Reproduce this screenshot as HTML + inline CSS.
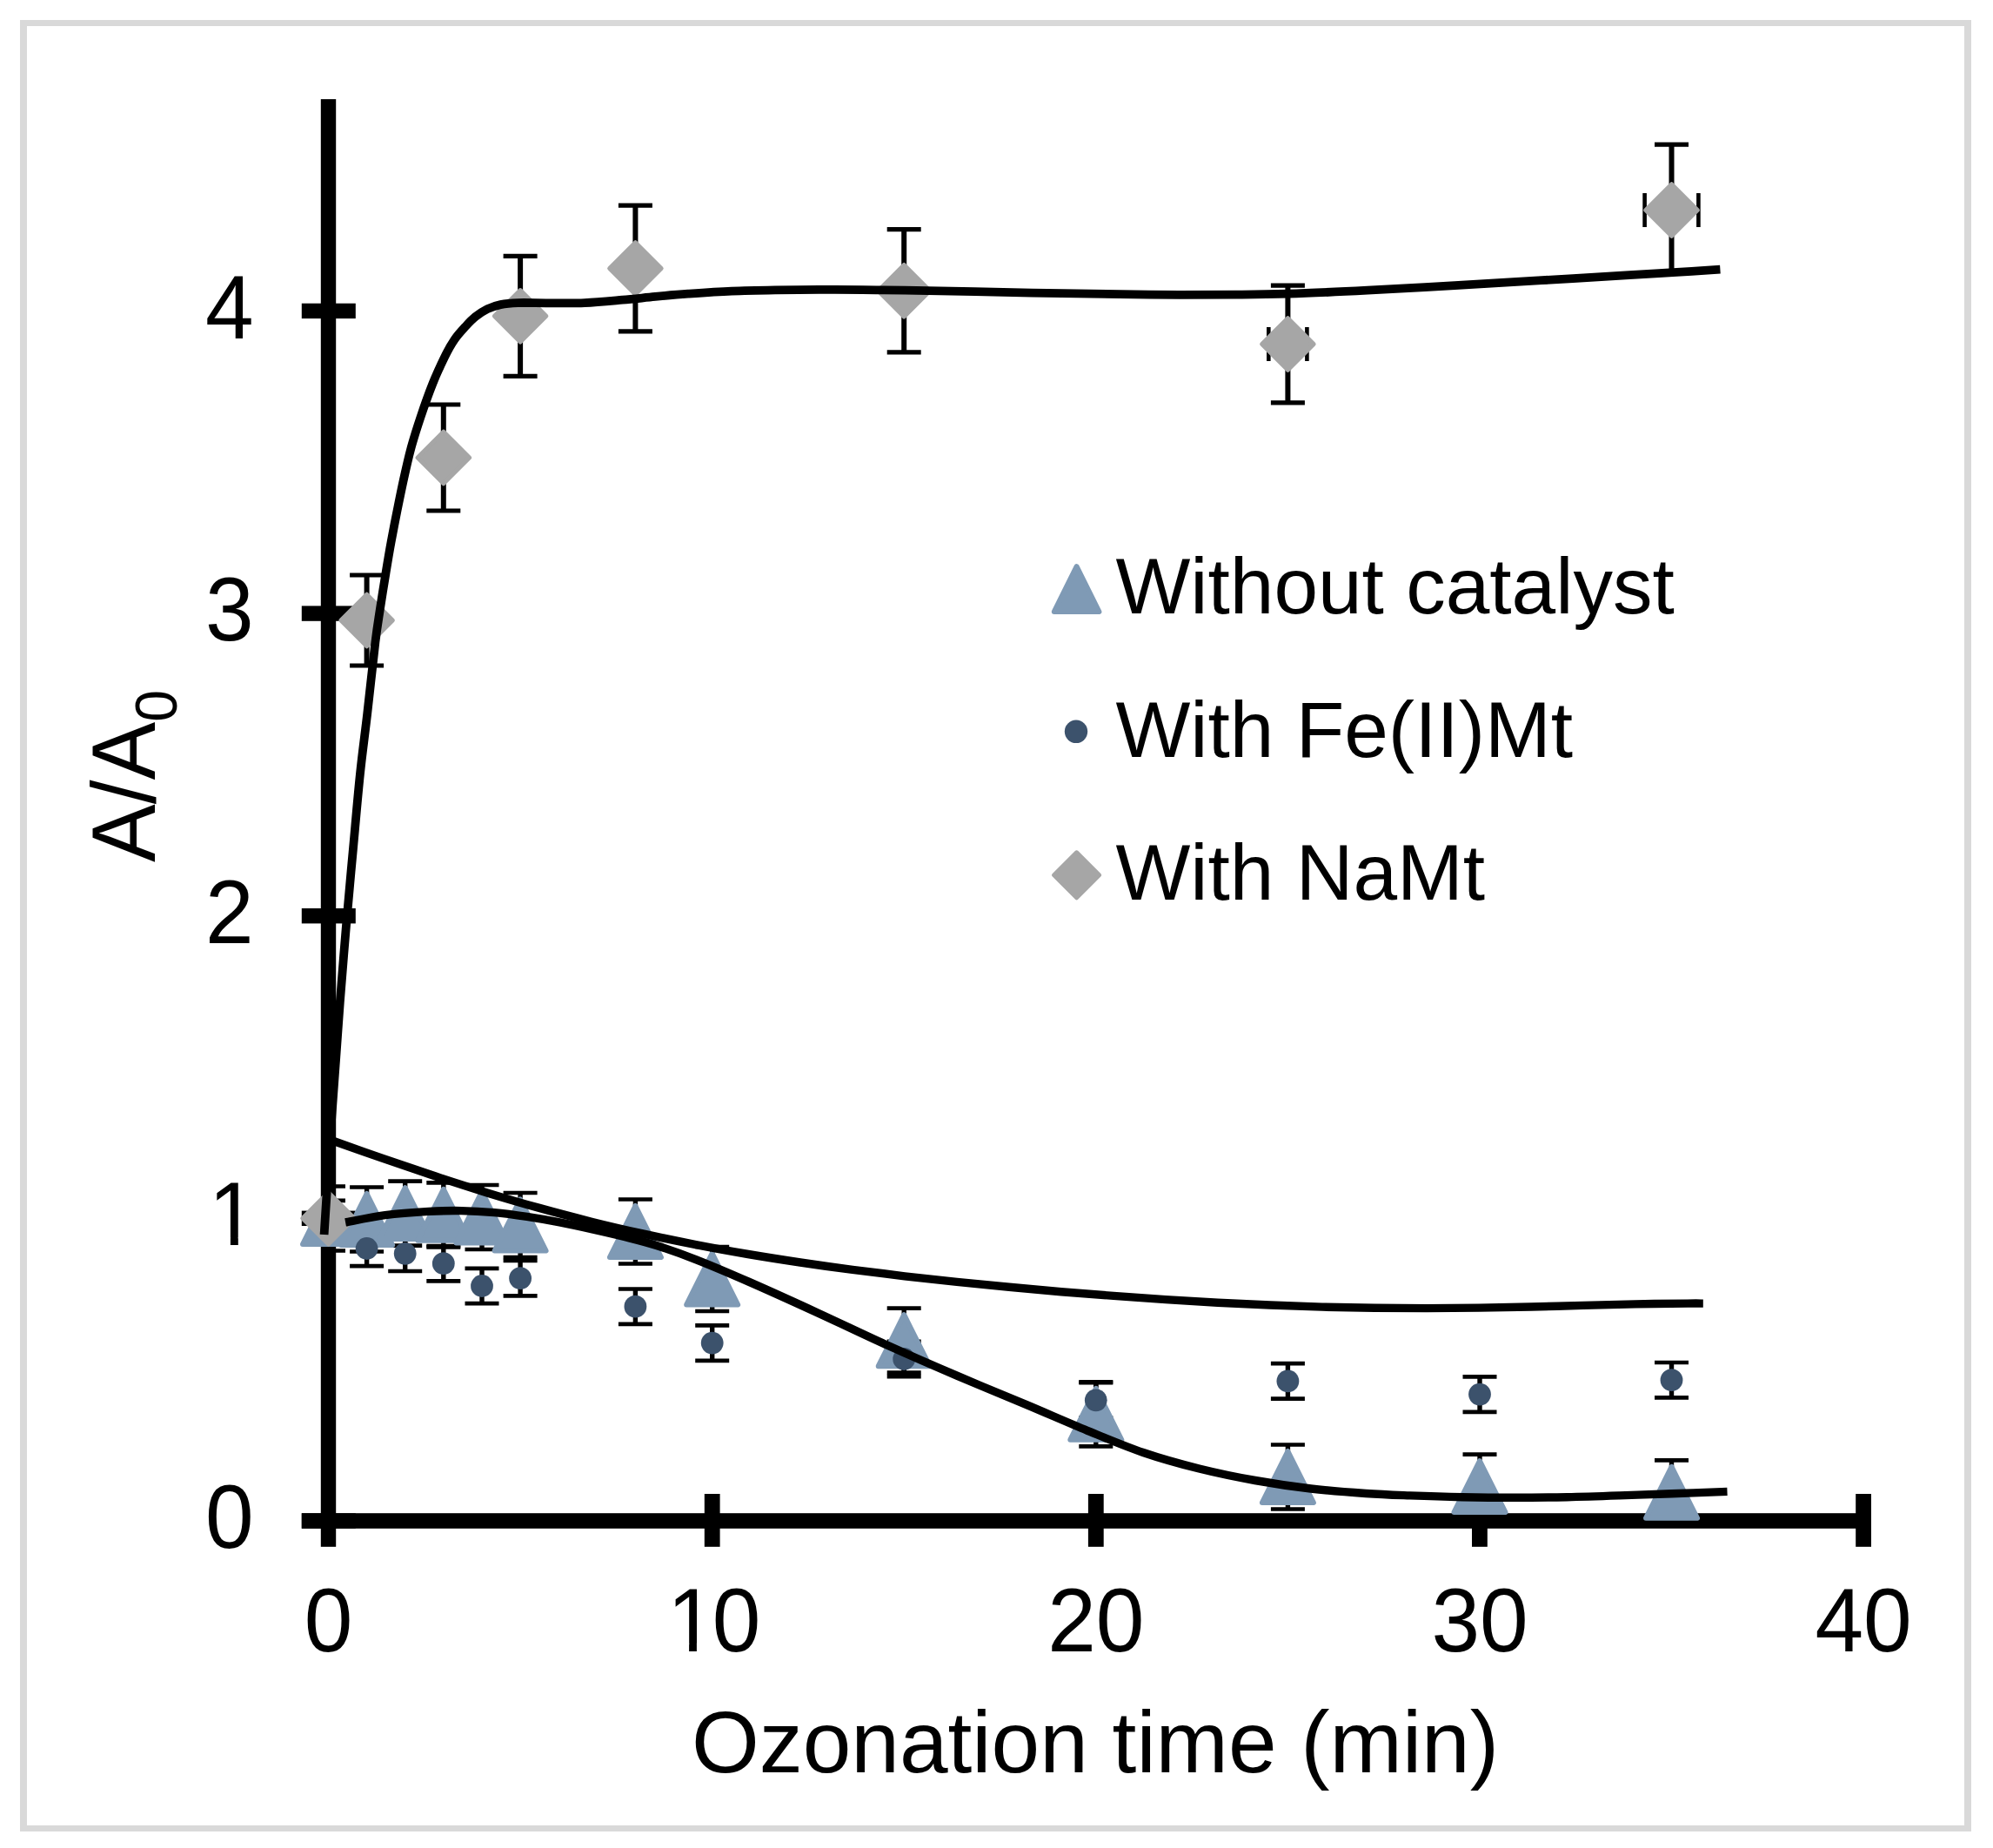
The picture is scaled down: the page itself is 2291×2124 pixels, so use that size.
<!DOCTYPE html>
<html><head><meta charset="utf-8"><title>Ozonation chart</title>
<style>html,body{margin:0;padding:0;background:#fff;overflow:hidden}svg{display:block}text{font-family:"Liberation Sans",sans-serif;fill:#000}</style>
</head><body>
<svg width="2291" height="2124" viewBox="0 0 2291 2124">
<rect x="0" y="0" width="2291" height="2124" fill="#fff"/>
<g fill="#d9d9d9">
<rect x="23" y="23" width="2243" height="7"/>
<rect x="23" y="2098" width="2243" height="7"/>
<rect x="23" y="23" width="8" height="2082"/>
<rect x="2258" y="23" width="8" height="2082"/>
</g>
<g fill="#000">
<rect x="368.8" y="114" width="17.4" height="1663.8"/>
<rect x="346.8" y="1739.2" width="1804.2" height="17.6"/>
<rect x="346.8" y="1739.3" width="62" height="17.4"/>
<rect x="346.8" y="1391.6" width="62" height="17.4"/>
<rect x="346.8" y="1044.0" width="62" height="17.4"/>
<rect x="346.8" y="696.4" width="62" height="17.4"/>
<rect x="346.8" y="348.7" width="62" height="17.4"/>
<rect x="809.8" y="1717" width="17.8" height="60.8"/>
<rect x="1250.9" y="1717" width="17.8" height="60.8"/>
<rect x="1692.0" y="1717" width="17.8" height="60.8"/>
<rect x="2133.2" y="1717" width="17.8" height="60.8"/>
</g>
<clipPath id="pa"><rect x="377.5" y="100" width="1800" height="1700"/></clipPath>
<g clip-path="url(#pa)" stroke="#000" stroke-width="4.6" fill="none">
<path stroke-width="5.4" d="M377.5 1363.5V1437.5"/><path stroke-width="4.7" d="M358.0 1363.5H397.0M358.0 1437.5H397.0"/>
<path stroke-width="5.4" d="M421.6 1364.5V1438.5"/><path stroke-width="4.7" d="M402.1 1364.5H441.1M402.1 1438.5H441.1"/>
<path stroke-width="5.4" d="M465.7 1357.6V1431.6"/><path stroke-width="4.7" d="M446.2 1357.6H485.2M446.2 1431.6H485.2"/>
<path stroke-width="5.4" d="M509.8 1359.3V1433.3"/><path stroke-width="4.7" d="M490.3 1359.3H529.3M490.3 1433.3H529.3"/>
<path stroke-width="5.4" d="M554.0 1362.0V1436.0"/><path stroke-width="4.7" d="M534.5 1362.0H573.5M534.5 1436.0H573.5"/>
<path stroke-width="5.4" d="M598.1 1371.0V1445.0"/><path stroke-width="4.7" d="M578.6 1371.0H617.6M578.6 1445.0H617.6"/>
<path stroke-width="5.4" d="M730.4 1378.5V1452.5"/><path stroke-width="4.7" d="M710.9 1378.5H749.9M710.9 1452.5H749.9"/>
<path stroke-width="5.4" d="M818.7 1433.0V1507.0"/><path stroke-width="4.7" d="M799.2 1433.0H838.2M799.2 1507.0H838.2"/>
<path stroke-width="5.4" d="M1039.2 1503.7V1577.7"/><path stroke-width="4.7" d="M1019.7 1503.7H1058.7M1019.7 1577.7H1058.7"/>
<path stroke-width="5.4" d="M1259.8 1588.3V1662.3"/><path stroke-width="4.7" d="M1240.3 1588.3H1279.3M1240.3 1662.3H1279.3"/>
<path stroke-width="5.4" d="M1480.4 1660.5V1734.5"/><path stroke-width="4.7" d="M1460.9 1660.5H1499.9M1460.9 1734.5H1499.9"/>
<path stroke-width="5.4" d="M1701.0 1671.6V1745.6"/><path stroke-width="4.7" d="M1681.5 1671.6H1720.5M1681.5 1745.6H1720.5"/>
<path stroke-width="5.4" d="M1921.5 1678.3V1752.3"/><path stroke-width="4.7" d="M1902.0 1678.3H1941.0M1902.0 1752.3H1941.0"/>
<path stroke-width="5.4" d="M377.5 1379.8V1420.2"/><path stroke-width="4.7" d="M358.0 1379.8H397.0M358.0 1420.2H397.0"/>
<path stroke-width="5.4" d="M421.6 1414.8V1455.2"/><path stroke-width="4.7" d="M402.1 1414.8H441.1M402.1 1455.2H441.1"/>
<path stroke-width="5.4" d="M465.7 1420.6V1461.0"/><path stroke-width="4.7" d="M446.2 1420.6H485.2M446.2 1461.0H485.2"/>
<path stroke-width="5.4" d="M509.8 1432.0V1472.4"/><path stroke-width="4.7" d="M490.3 1432.0H529.3M490.3 1472.4H529.3"/>
<path stroke-width="5.4" d="M554.0 1457.8V1498.2"/><path stroke-width="4.7" d="M534.5 1457.8H573.5M534.5 1498.2H573.5"/>
<path stroke-width="5.4" d="M598.1 1449.0V1489.4"/><path stroke-width="4.7" d="M578.6 1449.0H617.6M578.6 1489.4H617.6"/>
<path stroke-width="5.4" d="M730.4 1481.5V1521.9"/><path stroke-width="4.7" d="M710.9 1481.5H749.9M710.9 1521.9H749.9"/>
<path stroke-width="5.4" d="M818.7 1523.4V1563.8"/><path stroke-width="4.7" d="M799.2 1523.4H838.2M799.2 1563.8H838.2"/>
<path stroke-width="5.4" d="M1039.2 1541.8V1582.2"/><path stroke-width="4.7" d="M1019.7 1541.8H1058.7M1019.7 1582.2H1058.7"/>
<path stroke-width="5.4" d="M1259.8 1589.1V1629.5"/><path stroke-width="4.7" d="M1240.3 1589.1H1279.3M1240.3 1629.5H1279.3"/>
<path stroke-width="5.4" d="M1480.4 1567.2V1607.6"/><path stroke-width="4.7" d="M1460.9 1567.2H1499.9M1460.9 1607.6H1499.9"/>
<path stroke-width="5.4" d="M1701.0 1582.4V1622.8"/><path stroke-width="4.7" d="M1681.5 1582.4H1720.5M1681.5 1622.8H1720.5"/>
<path stroke-width="5.4" d="M1921.5 1566.0V1606.4"/><path stroke-width="4.7" d="M1902.0 1566.0H1941.0M1902.0 1606.4H1941.0"/>
<path stroke-width="6.0" d="M421.6 661.0V765.0"/><path stroke-width="5.2" d="M402.1 661.0H441.1M402.1 765.0H441.1"/>
<path stroke-width="6.0" d="M509.8 465.0V587.0"/><path stroke-width="5.2" d="M490.3 465.0H529.3M490.3 587.0H529.3"/>
<path stroke-width="6.0" d="M598.1 294.3V432.3"/><path stroke-width="5.2" d="M578.6 294.3H617.6M578.6 432.3H617.6"/>
<path stroke-width="6.0" d="M730.4 236.2V380.8"/><path stroke-width="5.2" d="M710.9 236.2H749.9M710.9 380.8H749.9"/>
<path stroke-width="6.0" d="M1039.2 263.6V404.8"/><path stroke-width="5.2" d="M1019.7 263.6H1058.7M1019.7 404.8H1058.7"/>
<path stroke-width="6.0" d="M1480.4 328.2V462.8"/><path stroke-width="5.2" d="M1460.9 328.2H1499.9M1460.9 462.8H1499.9"/>
<path d="M1458.3 395.5H1502.4M1458.3 376.0V415.0M1502.4 376.0V415.0"/>
<path stroke-width="6.0" d="M1921.5 166.2V314.3"/><path stroke-width="5.2" d="M1902.0 166.2H1941.0M1902.0 314.3H1941.0"/>
<path d="M1890.6 241.5H1952.4M1890.6 222.0V261.0M1952.4 222.0V261.0"/>
</g>
<g fill="#7f9ab5" stroke="#7f9ab5" stroke-width="6" stroke-linejoin="round">
<path d="M377.50 1371.00L407.00 1430.00L348.00 1430.00Z"/>
<path d="M421.62 1372.00L451.12 1431.00L392.12 1431.00Z"/>
<path d="M465.73 1365.10L495.23 1424.10L436.23 1424.10Z"/>
<path d="M509.85 1366.80L539.35 1425.80L480.35 1425.80Z"/>
<path d="M553.96 1369.50L583.46 1428.50L524.46 1428.50Z"/>
<path d="M598.08 1378.50L627.58 1437.50L568.58 1437.50Z"/>
<path d="M730.42 1386.00L759.92 1445.00L700.92 1445.00Z"/>
<path d="M818.65 1440.50L848.15 1499.50L789.15 1499.50Z"/>
<path d="M1039.22 1511.20L1068.72 1570.20L1009.72 1570.20Z"/>
<path d="M1259.80 1595.80L1289.30 1654.80L1230.30 1654.80Z"/>
<path d="M1480.38 1668.00L1509.88 1727.00L1450.88 1727.00Z"/>
<path d="M1700.95 1679.10L1730.45 1738.10L1671.45 1738.10Z"/>
<path d="M1921.53 1685.80L1951.03 1744.80L1892.03 1744.80Z"/>
</g>
<g fill="#3c526c">
<circle cx="377.5" cy="1400.0" r="12.9"/>
<circle cx="421.6" cy="1435.0" r="12.9"/>
<circle cx="465.7" cy="1440.8" r="12.9"/>
<circle cx="509.8" cy="1452.2" r="12.9"/>
<circle cx="554.0" cy="1478.0" r="12.9"/>
<circle cx="598.1" cy="1469.2" r="12.9"/>
<circle cx="730.4" cy="1501.7" r="12.9"/>
<circle cx="818.7" cy="1543.6" r="12.9"/>
<circle cx="1039.2" cy="1562.0" r="12.9"/>
<circle cx="1259.8" cy="1609.3" r="12.9"/>
<circle cx="1480.4" cy="1587.4" r="12.9"/>
<circle cx="1701.0" cy="1602.6" r="12.9"/>
<circle cx="1921.5" cy="1586.2" r="12.9"/>
</g>
<g fill="#a6a6a6" stroke="#a6a6a6" stroke-width="5" stroke-linejoin="round">
<path d="M377.50 1370.55L407.25 1400.30L377.50 1430.05L347.75 1400.30Z"/>
<path d="M421.62 683.25L451.37 713.00L421.62 742.75L391.87 713.00Z"/>
<path d="M509.85 496.25L539.60 526.00L509.85 555.75L480.10 526.00Z"/>
<path d="M598.08 333.55L627.83 363.30L598.08 393.05L568.33 363.30Z"/>
<path d="M730.42 278.75L760.17 308.50L730.42 338.25L700.67 308.50Z"/>
<path d="M1039.22 304.45L1068.97 334.20L1039.22 363.95L1009.47 334.20Z"/>
<path d="M1480.38 365.75L1510.12 395.50L1480.38 425.25L1450.62 395.50Z"/>
<path d="M1921.53 211.75L1951.28 241.50L1921.53 271.25L1891.78 241.50Z"/>
</g>
<g fill="none" stroke="#000" stroke-width="9.4" stroke-linecap="butt" stroke-linejoin="round">
<path stroke-width="9.8" d="M372.6 1419.0C373.1 1410.8 374.2 1392.5 375.7 1370.0C377.1 1347.5 379.5 1309.6 381.3 1283.7C383.1 1257.8 384.7 1236.7 386.3 1214.8C387.9 1192.9 388.8 1177.9 390.8 1152.1C392.8 1126.3 395.8 1089.5 398.3 1060.0C400.8 1030.5 403.4 1003.3 406.0 975.0C408.6 946.7 411.2 915.9 413.9 890.0C416.6 864.1 419.4 844.8 422.3 819.5C425.2 794.2 429.0 758.2 431.4 738.3C433.8 718.4 434.9 713.3 436.9 700.0C438.9 686.7 441.4 671.5 443.5 658.6C445.6 645.8 447.4 634.8 449.6 622.9C451.8 611.0 454.1 599.0 456.5 587.1C458.9 575.2 461.3 563.3 463.9 551.4C466.5 539.5 469.1 527.6 472.3 515.7C475.5 503.8 479.1 492.6 483.3 480.0C487.5 467.4 493.0 452.0 497.6 440.4C502.2 428.8 507.0 418.7 511.1 410.3C515.2 401.9 518.6 395.9 522.5 390.2C526.4 384.5 530.2 380.5 534.2 376.2C538.2 371.9 541.9 367.7 546.3 364.2C550.6 360.7 555.4 357.5 560.3 355.1C565.1 352.8 569.5 351.3 575.4 350.1C581.2 348.9 586.2 348.4 595.4 348.1C604.6 347.8 617.8 348.3 630.6 348.3C643.4 348.3 657.8 348.7 672.0 348.1C686.2 347.5 702.1 345.9 715.6 344.7C729.1 343.5 740.7 342.1 753.2 340.9C765.8 339.7 776.3 338.7 790.9 337.7C805.5 336.7 824.3 335.4 841.0 334.7C857.7 334.0 874.5 333.7 891.2 333.4C907.9 333.1 924.7 332.9 941.4 332.9C958.1 332.9 975.2 333.1 991.6 333.2C1008.0 333.3 1018.5 333.4 1040.0 333.7C1061.5 334.0 1090.3 334.6 1120.4 335.2C1150.5 335.8 1187.3 336.6 1220.7 337.2C1254.1 337.8 1287.5 338.4 1321.0 338.7C1354.5 338.9 1394.8 338.9 1421.4 338.7C1448.0 338.5 1455.5 338.5 1480.6 337.7C1505.7 336.9 1540.0 335.3 1572.0 333.7C1604.0 332.1 1638.9 330.1 1672.3 328.2C1705.7 326.3 1739.1 324.2 1772.6 322.2C1806.0 320.2 1847.9 317.7 1873.0 316.2C1898.1 314.7 1905.8 314.3 1923.2 313.2C1940.6 312.1 1968.4 310.2 1977.4 309.6"/>
<path d="M380.0 1310.2C390.0 1313.7 420.0 1324.5 440.0 1331.4C460.0 1338.3 480.0 1345.2 500.0 1351.8C520.0 1358.4 540.0 1364.8 560.0 1370.9C580.0 1377.0 600.0 1382.9 620.0 1388.4C640.0 1394.0 660.0 1399.2 680.0 1404.2C700.0 1409.2 720.0 1413.8 740.0 1418.2C760.0 1422.6 780.0 1426.7 800.0 1430.6C820.0 1434.5 840.0 1438.1 860.0 1441.5C880.0 1444.9 900.0 1448.0 920.0 1451.0C940.0 1454.0 960.0 1456.8 980.0 1459.4C1000.0 1462.0 1020.0 1464.5 1040.0 1466.8C1060.0 1469.1 1080.0 1471.3 1100.0 1473.4C1120.0 1475.5 1140.0 1477.4 1160.0 1479.3C1180.0 1481.2 1200.0 1483.0 1220.0 1484.7C1240.0 1486.4 1260.0 1487.9 1280.0 1489.4C1300.0 1490.9 1320.0 1492.3 1340.0 1493.6C1360.0 1494.9 1380.0 1496.1 1400.0 1497.2C1420.0 1498.3 1440.0 1499.2 1460.0 1500.0C1480.0 1500.8 1500.0 1501.5 1520.0 1502.1C1540.0 1502.6 1560.0 1503.0 1580.0 1503.3C1600.0 1503.5 1620.0 1503.6 1640.0 1503.6C1660.0 1503.6 1680.0 1503.4 1700.0 1503.1C1720.0 1502.8 1740.0 1502.5 1760.0 1502.0C1780.0 1501.5 1800.0 1500.9 1820.0 1500.4C1840.0 1499.9 1860.0 1499.3 1880.0 1498.9C1900.0 1498.5 1927.0 1498.2 1940.0 1498.1C1953.0 1498.0 1954.8 1498.1 1957.8 1498.1"/>
<path d="M397.1 1404.9C404.7 1403.5 426.7 1398.7 442.7 1396.6C458.7 1394.5 478.3 1393.2 492.9 1392.4C507.5 1391.6 518.0 1391.4 530.5 1391.6C543.0 1391.8 555.7 1392.5 568.2 1393.6C580.8 1394.7 593.3 1396.5 605.8 1398.4C618.3 1400.3 630.9 1402.5 643.4 1404.9C655.9 1407.3 668.5 1410.1 681.0 1412.9C693.5 1415.7 706.4 1418.6 718.7 1421.7C731.0 1424.8 741.1 1427.2 754.7 1431.5C768.3 1435.8 782.8 1440.9 800.4 1447.8C818.0 1454.7 837.3 1462.9 860.6 1473.1C883.9 1483.3 913.4 1496.7 940.0 1508.9C966.6 1521.1 993.5 1534.2 1020.3 1546.3C1047.1 1558.4 1073.8 1570.0 1100.6 1581.4C1127.3 1592.8 1155.9 1604.4 1180.8 1614.9C1205.7 1625.4 1227.8 1635.2 1250.0 1644.3C1272.2 1653.4 1292.8 1662.2 1314.2 1669.5C1335.6 1676.8 1357.1 1682.7 1378.5 1688.0C1399.9 1693.3 1421.3 1697.7 1442.7 1701.5C1464.1 1705.3 1485.7 1708.5 1506.9 1711.0C1528.1 1713.5 1551.0 1715.2 1570.0 1716.5C1589.0 1717.8 1602.1 1718.2 1620.6 1718.9C1639.1 1719.6 1660.7 1720.3 1680.8 1720.7C1700.9 1721.1 1720.9 1721.3 1741.0 1721.3C1761.1 1721.3 1781.2 1721.1 1801.3 1720.7C1821.4 1720.3 1841.4 1719.6 1861.5 1718.9C1881.6 1718.2 1901.0 1717.5 1921.7 1716.8C1942.4 1716.0 1974.9 1714.8 1985.5 1714.4"/>
</g>
<g font-size="100">
<text transform="translate(291.5 1779.3) scale(1 1.040)" text-anchor="end">0</text>
<text transform="translate(291.5 1084.0) scale(1 1.040)" text-anchor="end">2</text>
<text transform="translate(291.5 736.4) scale(1 1.040)" text-anchor="end">3</text>
<text transform="translate(291.5 388.7) scale(1 1.040)" text-anchor="end">4</text>
<clipPath id="c1"><path d="M0 0H2291V1422.3H0Z M264.9 1419.3H273.8V1434.3H264.9Z"/></clipPath>
<g clip-path="url(#c1)"><text transform="translate(295.4 1431.3) scale(1 1.040)" text-anchor="end">1</text></g>
<text transform="translate(377.5 1897.6) scale(1 1.040)" text-anchor="middle">0</text>
<text transform="translate(1259.8 1897.6) scale(1 1.040)" text-anchor="middle">20</text>
<text transform="translate(1701.0 1897.6) scale(1 1.040)" text-anchor="middle">30</text>
<text transform="translate(2142.1 1897.6) scale(1 1.040)" text-anchor="middle">40</text>
<clipPath id="c10"><path d="M0 0H2291V1888.6H0Z M792.1 1885.6H800.9V1900.6H792.1Z M820.2 1885.6H2291V1937.6H820.2Z"/></clipPath>
<g clip-path="url(#c10)"><text transform="translate(763.1 1897.6) scale(1 1.040)"><tspan dx="3.9">1</tspan><tspan dx="-3.9">0</tspan></text></g>
<text x="1259" y="2037" text-anchor="middle">Ozonation time (min)</text>
<text transform="translate(177.7 991) rotate(-90) scale(1 1.040)">A/A<tspan font-size="66" dy="24.5">0</tspan></text>
</g>
<g font-size="91">
<text x="1282.4" y="705.2">Without catalyst</text>
<text x="1282.4" y="870.1">With Fe(II)Mt</text>
<text x="1282.4" y="1034.3">With NaMt</text>
</g>
<g fill="#7f9ab5" stroke="#7f9ab5" stroke-width="6" stroke-linejoin="round">
<path d="M1237.60 651.20L1263.40 703.00L1211.80 703.00Z"/>
</g>
<circle cx="1237" cy="840.8" r="13.2" fill="#3c526c"/>
<g fill="#a6a6a6" stroke="#a6a6a6" stroke-width="5" stroke-linejoin="round">
<path d="M1237.60 979.85L1263.55 1005.80L1237.60 1031.75L1211.65 1005.80Z"/>
</g>
</svg></body></html>
